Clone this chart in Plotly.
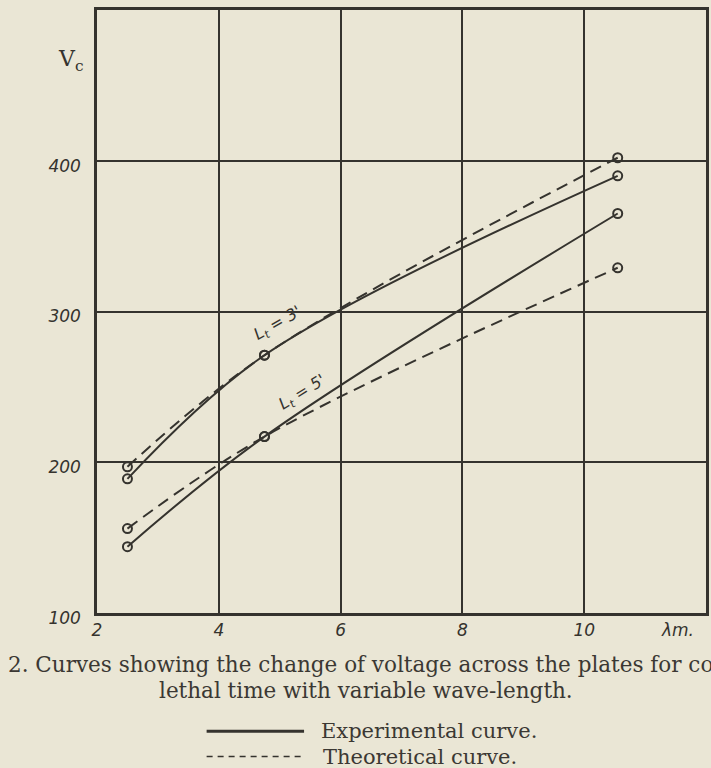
import plotly.graph_objects as go

# ---- data ----
wavelength = [2.5, 4.75, 10.55]          # lambda (m)
exp_lt3 = [189, 271, 390]                # experimental, Lt = 3'
theo_lt3 = [197, 271, 402]               # theoretical, Lt = 3'
exp_lt5 = [144, 217, 365]                # experimental, Lt = 5'
theo_lt5 = [156, 217, 329]               # theoretical, Lt = 5'

x_ticks = [2, 4, 6, 8, 10]
x_tick_text = ["2", "4", "6", "8", "10"]
y_ticks = [100, 200, 300, 400]
y_tick_text = ["100", "200", "300", "400"]

INK = "#35332e"
PAPER = "#eae6d5"
HAND = "DejaVu Sans"

fig = go.Figure()

def add_curve(y, dashed):
    fig.add_trace(go.Scatter(
        x=wavelength, y=y, mode="lines+markers",
        line=dict(color=INK, width=2, shape="spline",
                  dash="12px,7px" if dashed else "solid"),
        marker=dict(symbol="circle-open", size=9, color=INK,
                    line=dict(width=2, color=INK)),
        showlegend=False, hoverinfo="skip",
    ))

add_curve(theo_lt3, True)
add_curve(exp_lt3, False)
add_curve(theo_lt5, True)
add_curve(exp_lt5, False)

fig.update_xaxes(
    range=[2, 12], tickvals=x_ticks, ticktext=x_tick_text,
    showgrid=True, gridcolor=INK, gridwidth=1.8, zeroline=False,
    showline=True, mirror=True, linecolor=INK, linewidth=2.5,
    ticks="", ticklabelstandoff=0,
    tickfont=dict(family=HAND, size=17, color=INK, style="italic"),
)
fig.update_yaxes(
    range=[100, 500], tickvals=y_ticks, ticktext=y_tick_text,
    showgrid=True, gridcolor=INK, gridwidth=1.8, zeroline=False,
    showline=True, mirror=True, linecolor=INK, linewidth=2.5,
    ticks="", ticklabelstandoff=10, ticklabelshift=5,
    tickfont=dict(family=HAND, size=17, color=INK, style="italic"),
)

ann = []
# axis labels
ann.append(dict(text="V<sub>c</sub>", xref="paper", yref="paper",
                x=-0.068, y=0.944, showarrow=False,
                font=dict(family="DejaVu Serif", size=22, color=INK)))
ann.append(dict(text="λm.", xref="paper", yref="paper",
                x=0.983, y=-0.048, showarrow=False,
                font=dict(family=HAND, size=17, color=INK, style="italic")))
# curve labels
ann.append(dict(text="L<sub>t</sub> = 3'", x=4.97, y=292, showarrow=False,
                textangle=-30,
                font=dict(family=HAND, size=16, color=INK, style="italic")))
ann.append(dict(text="L<sub>t</sub> = 5'", x=5.38, y=246, showarrow=False,
                textangle=-32,
                font=dict(family=HAND, size=16, color=INK, style="italic")))
# caption
CAP = dict(family="DejaVu Serif", size=21.5, color="#3b3833")
ann.append(dict(text="2. Curves showing the change of voltage across the plates for co",
                xref="paper", yref="paper", x=-0.150, y=-0.086,
                xanchor="left", yanchor="middle", showarrow=False, font=CAP))
ann.append(dict(text="lethal time with variable wave-length.",
                xref="paper", yref="paper", x=0.441, y=-0.128,
                xanchor="center", yanchor="middle", showarrow=False, font=CAP))
CAP2 = dict(family="DejaVu Serif", size=21, color="#3b3833")
ann.append(dict(text="Experimental curve.",
                xref="paper", yref="paper", x=0.364, y=-0.196,
                xanchor="left", yanchor="middle", showarrow=False, font=CAP2))
ann.append(dict(text="Theoretical curve.",
                xref="paper", yref="paper", x=0.367, y=-0.238,
                xanchor="left", yanchor="middle", showarrow=False, font=CAP2))

shapes = [
    dict(type="line", xref="paper", yref="paper", x0=0.180, x1=0.340,
         y0=-0.196, y1=-0.196, line=dict(color=INK, width=3)),
    dict(type="line", xref="paper", yref="paper", x0=0.180, x1=0.340,
         y0=-0.238, y1=-0.238, line=dict(color=INK, width=1.5, dash="6px,5px")),
]

fig.update_layout(
    width=711, height=768,
    margin=dict(l=97, r=2, t=10, b=155),
    paper_bgcolor=PAPER, plot_bgcolor=PAPER,
    annotations=ann, shapes=shapes,
    showlegend=False,
)

fig.write_html(
    "out.html",
    config={"displayModeBar": False},
    post_script="document.body.style.margin='0';document.body.style.overflow='hidden';",
)
